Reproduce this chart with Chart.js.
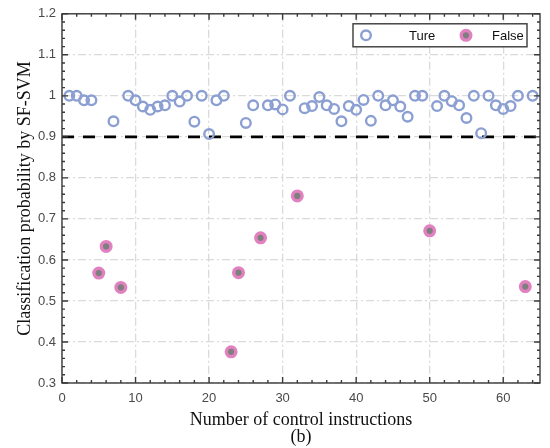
<!DOCTYPE html>
<html>
<head>
<meta charset="utf-8">
<script src="https://cdn.jsdelivr.net/npm/chart.js@4.4.0/dist/chart.umd.min.js"></script>
<style>
  html, body { margin: 0; padding: 0; background: #fff; }
  #wrap { width: 550px; height: 448px; }
</style>
</head>
<body>
<div id="wrap"><canvas id="myChart" width="550" height="448"></canvas></div>
<script>
// data
const trueX = [1, 2, 3, 4, 7, 9, 10, 11, 12, 13, 14, 15, 16, 17, 18, 19, 20, 21, 22,
  25, 26, 28, 29, 30, 31, 33, 34, 35, 36, 37, 38, 39, 40, 41, 42, 43, 44, 45, 46, 47,
  48, 49, 51, 52, 53, 54, 55, 56, 57, 58, 59, 60, 61, 62, 64];
const trueY = [1.0, 1.0, 0.989, 0.989, 0.938, 1.0, 0.989, 0.974, 0.966, 0.974, 0.977, 1.0, 0.986, 1.0, 0.937, 1.0, 0.907, 0.989, 1.0,
  0.934, 0.977, 0.977, 0.979, 0.967, 1.0, 0.970, 0.975, 0.997, 0.977, 0.968, 0.938, 0.975, 0.966, 0.990, 0.939, 1.0, 0.977, 0.989, 0.974, 0.949,
  1.0, 1.0, 0.975, 1.0, 0.987, 0.977, 0.946, 1.0, 0.909, 1.0, 0.977, 0.968, 0.975, 1.0, 1.0];
const falseX = [5, 6, 8, 23, 24, 27, 32, 50, 63];
const falseY = [0.568, 0.633, 0.533, 0.376, 0.569, 0.654, 0.756, 0.671, 0.535];
const thresholdY = 0.9;
const xTicks = [0, 10, 20, 30, 40, 50, 60];
const yTicks = [0.3, 0.4, 0.5, 0.6, 0.7, 0.8, 0.9, 1.0, 1.1, 1.2];
const legendLabels = ['Ture', 'False'];

const blue = '#8c9fd2';
const pink = '#e281c0';
const gray = '#7f7f7f';

function toPoints(xs, ys) {
  return xs.map((v, i) => ({ x: v, y: ys[i] }));
}

// box, inward ticks and legend like the original figure
const framePlugin = {
  id: 'frame',
  afterDatasetsDraw(chart) {
    const { ctx, chartArea: a, scales: { x, y } } = chart;
    ctx.save();
    ctx.strokeStyle = '#3a3a3a';
    ctx.lineWidth = 1.4;
    ctx.strokeRect(a.left, a.top, a.right - a.left, a.bottom - a.top);
    ctx.beginPath();
    for (let v = 0; v <= 65; v += 2) {
      const px = x.getPixelForValue(v);
      const len = v % 10 === 0 ? 6 : 3;
      ctx.moveTo(px, a.bottom); ctx.lineTo(px, a.bottom - len);
      ctx.moveTo(px, a.top); ctx.lineTo(px, a.top + len);
    }
    for (let k = 0; k <= 45; k++) {
      const v = 0.3 + k * 0.02;
      const py = y.getPixelForValue(v);
      const len = k % 5 === 0 ? 6 : 3;
      ctx.moveTo(a.left, py); ctx.lineTo(a.left + len, py);
      ctx.moveTo(a.right, py); ctx.lineTo(a.right - len, py);
    }
    ctx.stroke();
    ctx.restore();
  },
  afterDraw(chart) {
    const { ctx, chartArea: a } = chart;
    const bx = a.right - 187, by = a.top + 10, bw = 174, bh = 23;
    ctx.save();
    ctx.fillStyle = '#fff';
    ctx.fillRect(bx, by, bw, bh);
    ctx.strokeStyle = '#3a3a3a';
    ctx.lineWidth = 1.4;
    ctx.strokeRect(bx, by, bw, bh);
    const cy = by + bh / 2;
    const sets = chart.data.datasets;
    [[bx + 13, sets[0]], [bx + 113, sets[1]]].forEach(([cx, ds]) => {
      ctx.beginPath();
      ctx.arc(cx, cy, ds.pointRadius, 0, Math.PI * 2);
      ctx.fillStyle = ds.backgroundColor;
      ctx.fill();
      ctx.lineWidth = ds.borderWidth;
      ctx.strokeStyle = ds.borderColor;
      ctx.stroke();
    });
    ctx.fillStyle = '#111';
    ctx.font = '13px "Liberation Sans", Arial, sans-serif';
    ctx.textBaseline = 'middle';
    ctx.fillText(legendLabels[0], bx + 56, cy + 1);
    ctx.fillText(legendLabels[1], bx + 139, cy + 1);
    ctx.restore();
  }
};

const tickFont = { family: '"Liberation Sans", Arial, sans-serif', size: 13 };
const serif = '"Liberation Serif", "Times New Roman", serif';

new Chart(document.getElementById('myChart'), {
  type: 'scatter',
  data: {
    datasets: [{
      label: legendLabels[0],
      data: toPoints(trueX, trueY),
      pointRadius: 4.8,
      pointHoverRadius: 4.8,
      borderWidth: 2.4,
      borderColor: blue,
      backgroundColor: 'rgba(255,255,255,0)',
      order: 1
    }, {
      label: legendLabels[1],
      data: toPoints(falseX, falseY),
      pointRadius: 4.8,
      pointHoverRadius: 4.8,
      borderWidth: 3.4,
      borderColor: pink,
      backgroundColor: gray,
      order: 0
    }, {
      type: 'line',
      label: 'threshold',
      data: [{ x: 0, y: thresholdY }, { x: 65, y: thresholdY }],
      borderColor: '#000',
      borderWidth: 2.8,
      borderDash: [12, 9],
      pointRadius: 0,
      order: 2
    }]
  },
  options: {
    responsive: false,
    animation: false,
    devicePixelRatio: 1,
    layout: { padding: { top: 8, right: 10, left: 0, bottom: 0 } },
    plugins: {
      legend: { display: false },
      tooltip: { enabled: false }
    },
    scales: {
      x: {
        type: 'linear',
        min: 0,
        max: 65,
        afterBuildTicks: s => { s.ticks = xTicks.map(v => ({ value: v })); },
        afterFit: s => { s.height = 65; },
        grid: { color: '#dadada', lineWidth: 1.3, drawTicks: false },
        border: { display: false, dash: [8, 3, 2, 3] },
        ticks: { font: tickFont, color: '#4a4a4a', padding: 8 },
        title: {
          display: true,
          text: ['Number of control instructions', '(b)'],
          font: { family: serif, size: 18, lineHeight: 0.95 },
          color: '#111',
          padding: { top: 0, bottom: 2 }
        }
      },
      y: {
        min: 0.3,
        max: 1.2,
        afterBuildTicks: s => { s.ticks = yTicks.map(v => ({ value: v })); },
        afterFit: s => { s.width = 62; },
        grid: { color: '#dadada', lineWidth: 1.3, drawTicks: false },
        border: { display: false, dash: [8, 3, 2, 3] },
        ticks: {
          font: tickFont,
          color: '#4a4a4a',
          padding: 6,
          callback: v => String(parseFloat(v.toFixed(1)))
        },
        title: {
          display: true,
          text: 'Classification probability by SF-SVM',
          font: { family: serif, size: 18 },
          color: '#111',
          padding: { top: 14, bottom: 0 }
        }
      }
    }
  },
  plugins: [framePlugin]
});
</script>
</body>
</html>
